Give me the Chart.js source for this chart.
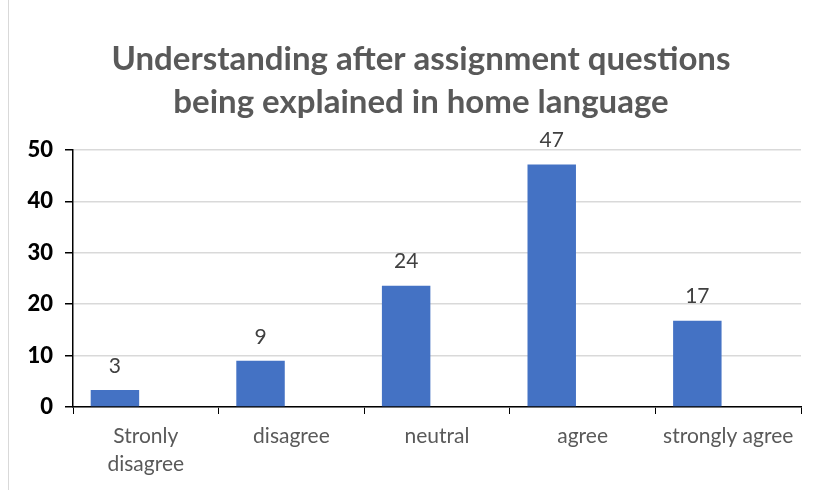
<!DOCTYPE html>
<html>
<head>
<meta charset="utf-8">
<script src="https://cdn.jsdelivr.net/npm/chart.js@4"></script>
<style>
  body{margin:0;background:#fff;}
  #wrap{position:relative;width:817px;height:490px;}
  #edge{position:absolute;left:8px;top:0;width:1px;height:490px;background:#d9d9d9;}
</style>
</head>
<body>
<div id="wrap">
  <div id="edge"></div>
  <canvas id="myChart" width="817" height="490"></canvas>
</div>
<script>
const categories = [["Stronly","disagree"], "disagree", "neutral", "agree", "strongly agree"];
const values = [3.3, 9.0, 23.6, 47.2, 16.8];
const yTicks = [0, 10, 20, 30, 40, 50];
const titleLines = ["Understanding after assignment questions", "being explained in home language"];

// numbers over the bars, rounded like the source labels
const barLabels = {
  id: "barLabels",
  afterDatasetsDraw(chart){
    let ctx = chart.ctx;
    let meta = chart.getDatasetMeta(0);
    ctx.save();
    ctx.font = "21px Lato";
    ctx.fillStyle = "#404040";
    ctx.textAlign = "center";
    ctx.textBaseline = "middle";
    meta.data.forEach((bar, i) => {
      ctx.fillText(Math.round(values[i]), bar.x, bar.y - 24);
    });
    ctx.restore();
  }
};

// title sits a bit right of the canvas centre in the source
const chartTitle = {
  id: "chartTitle",
  afterDraw(chart){
    let ctx = chart.ctx;
    ctx.save();
    ctx.font = "bold 33px Lato";
    ctx.fillStyle = "#595959";
    ctx.textAlign = "center";
    ctx.textBaseline = "middle";
    titleLines.forEach((t, i) => ctx.fillText(t, 421, 59 + i * 43));
    ctx.restore();
  }
};

let ch = document.getElementById("myChart");
new Chart(ch, {
  type: "bar",
  data: {
    labels: categories,
    datasets: [{
      data: values,
      backgroundColor: "#4472c4",
      categoryPercentage: 0.848,
      barPercentage: 0.785
    }, {
      data: [],
      backgroundColor: "#ed7d31",
      categoryPercentage: 0.848,
      barPercentage: 0.785
    }]
  },
  options: {
    responsive: false,
    animation: false,
    layout: {padding: {left: 11, right: 16, top: 150, bottom: 0}},
    plugins: {
      legend: {display: false},
      tooltip: {enabled: false},
      title: {display: false}
    },
    scales: {
      x: {
        grid: {drawOnChartArea: false, tickLength: 7, tickColor: "#000", offset: true},
        border: {color: "#000", width: 1.5},
        ticks: {color: "#595959", font: {family: "Lato", size: 21, lineHeight: 1.35}, padding: 8, maxRotation: 0, autoSkip: false},
        afterFit(scale){ scale.height = 83; }
      },
      y: {
        min: 0,
        max: 50,
        afterBuildTicks(scale){ scale.ticks = yTicks.map(v => ({value: v})); },
        grid: {color: "#d9d9d9", lineWidth: 1.5, tickLength: 8, tickColor: "#000"},
        border: {color: "#000", width: 1.5},
        ticks: {color: "#000", font: {family: "Lato", size: 22, weight: "900"}, padding: 12},
        afterFit(scale){ scale.width = 62; }
      }
    }
  },
  plugins: [barLabels, chartTitle]
});
</script>
</body>
</html>
